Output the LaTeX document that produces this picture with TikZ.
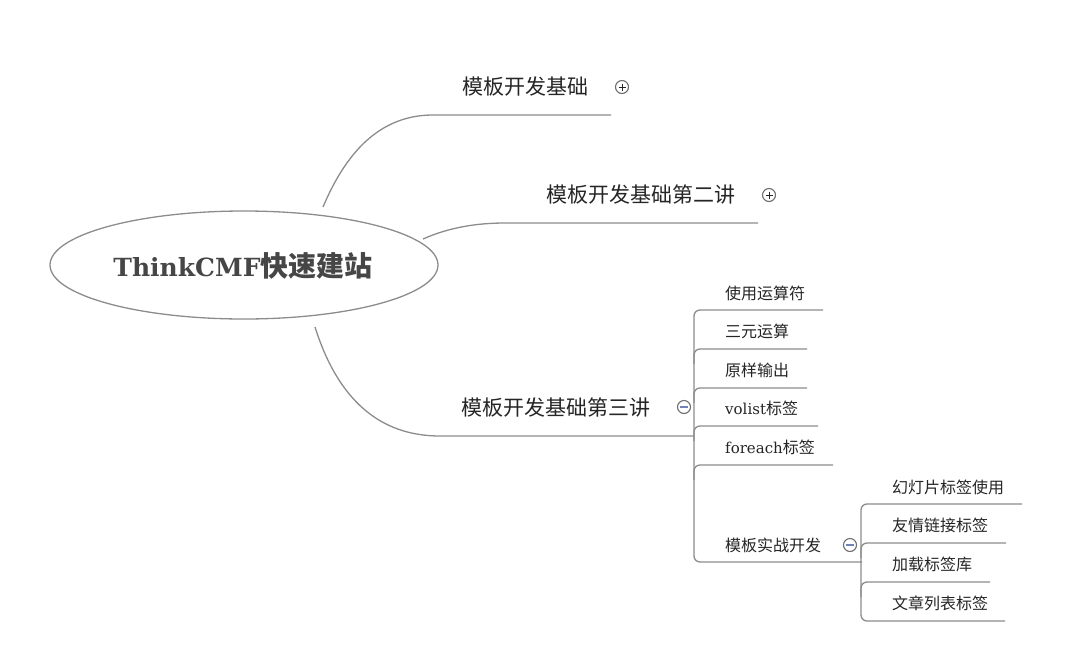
\documentclass[tikz,border=0pt]{standalone}
\usepackage{fontspec}
\usetikzlibrary{shapes.geometric}
\setmainfont{Noto Sans CJK SC}
\newfontfamily\slab{DejaVu Serif}
\definecolor{txt}{HTML}{252525}
\definecolor{ln}{HTML}{8C8C8C}
\definecolor{tg}{HTML}{6E6E6E}
\definecolor{minus}{HTML}{7282B8}
\tikzset{
  link/.style={draw=ln, line width=1.3pt},
  branch/.style={font=\fontsize{21}{21}\selectfont, text=txt, inner sep=0pt, anchor=center},
  leaf/.style={font=\fontsize{16}{16}\selectfont, text=txt, inner sep=0pt, anchor=west},
  toggle/.style={circle, draw=tg, line width=1.1pt, minimum size=13pt, inner sep=0pt, fill=white},
}
\begin{document}
\begin{tikzpicture}[x=1pt,y=-1pt]
\useasboundingbox (0,0) rectangle (1080,657);
% root
\node[ellipse, draw=ln, line width=1.3pt, minimum width=388pt, minimum height=108pt, inner sep=0pt] (root) at (244,265) {};
\node[text=txt!85!white, inner sep=0pt] (roottext) at (243,266) {{\slab\bfseries\fontsize{25}{25}\selectfont ThinkCMF}{\bfseries\fontsize{28}{28}\selectfont 快速建站}};

% branch 1
\node[branch] (b1) at (525,87) {模板开发基础};
\coordinate (b1s) at (323,207);
\coordinate (b1a) at (433,115);
\coordinate (b1e) at (611,115);
\draw[link] (b1s) .. controls (345,155) and (378,115) .. (b1a) -- (b1e);
\node[toggle] (t1) at (622,87) {};
\draw[txt, line width=1pt] (618.5,87) -- (625.5,87) (622,83.5) -- (622,90.5);

% branch 2
\node[branch] (b2) at (641,195) {模板开发基础第二讲};
\coordinate (b2s) at (423,239);
\coordinate (b2a) at (505,223);
\coordinate (b2e) at (758,223);
\draw[link] (b2s) .. controls (450,227) and (478,223) .. (b2a) -- (b2e);
\node[toggle] (t2) at (769,195) {};
\draw[txt, line width=1pt] (765.5,195) -- (772.5,195) (769,191.5) -- (769,198.5);

% branch 3
\node[branch] (b3) at (556,408) {模板开发基础第三讲};
\coordinate (b3s) at (315,327);
\coordinate (b3a) at (440,436);
\coordinate (b3e) at (694,436);
\draw[link] (b3s) .. controls (338,400) and (380,436) .. (b3a) -- (b3e);
\node[toggle] (t3) at (684,407) {};
\draw[minus, line width=1.2pt] (680,407) -- (688,407);

% children of branch 3
\node[leaf] (c1) at (725,293) {使用运算符};
\node[leaf] (c2) at (725,331) {三元运算};
\node[leaf] (c3) at (725,370) {原样输出};
\node[leaf] (c4) at (725,408) {{\slab\fontsize{15}{15}\selectfont volist}标签};
\node[leaf] (c5) at (725,447) {{\slab\fontsize{15}{15}\selectfont foreach}标签};
\node[leaf] (c6) at (725,545) {模板实战开发};
\coordinate (c1e) at (823,310);
\coordinate (c2e) at (807,349);
\coordinate (c3e) at (807,388);
\coordinate (c4e) at (818,426);
\coordinate (c5e) at (833,465);
\coordinate (c6e) at (862,562);
\draw[link, rounded corners=6pt] (c1e) -- (694,310) -- (694,562) -- (c6e);
\foreach \c/\y in {c2e/349, c3e/388, c4e/426, c5e/465}
  \draw[link, rounded corners=6pt] (\c) -- (694,\y) -- (694,\y+15);
\node[toggle] (t6) at (850,545) {};
\draw[minus, line width=1.2pt] (846,545) -- (854,545);

% children of 模板实战开发
\node[leaf] (d1) at (892,487) {幻灯片标签使用};
\node[leaf] (d2) at (892,525) {友情链接标签};
\node[leaf] (d3) at (892,564) {加载标签库};
\node[leaf] (d4) at (892,603) {文章列表标签};
\coordinate (d1e) at (1022,504);
\coordinate (d2e) at (1006,543);
\coordinate (d3e) at (990,582);
\coordinate (d4e) at (1005,621);
\draw[link, rounded corners=6pt] (d1e) -- (861,504) -- (861,621) -- (d4e);
\foreach \c/\y in {d2e/543, d3e/582}
  \draw[link, rounded corners=6pt] (\c) -- (861,\y) -- (861,\y+15);
\end{tikzpicture}
\end{document}
